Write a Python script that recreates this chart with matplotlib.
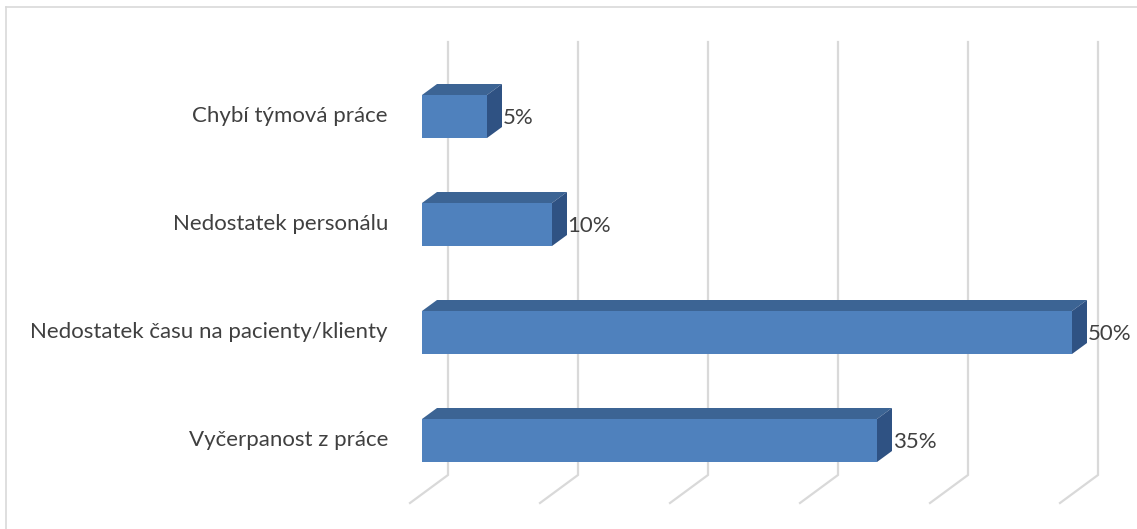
import matplotlib.pyplot as plt
from matplotlib.lines import Line2D
from matplotlib.patches import Polygon

W, H, DPI = 1137, 529, 100

categories = ["Vyčerpanost z práce", "Nedostatek času na pacienty/klienty",
              "Nedostatek personálu", "Chybí týmová práce"]
values = [35, 50, 10, 5]
grid_values = [0, 10, 20, 30, 40, 50]

FRONT = "#4F81BD"
TOP = "#3C6494"
SIDE = "#2F5283"
GRID = "#D9D9D9"
TEXT = "#404040"

# pixel scale of the plot: 13 px per percent, 108 px per category
PX_X, PX_Y = 13.0, 108.0
X0_PX, Y0_PX = 422.0, 88.5  # where value 0 / first category sit

# 3D depth offsets (data units)
BAR_DX, BAR_DY = 15 / PX_X, 11 / PX_Y
WALL_DX = 26 / PX_X
FLOOR_DX, FLOOR_DY = 38 / PX_X, 28 / PX_Y
BAR_H = 43 / PX_Y

plt.rcParams['font.family'] = ['Lato', 'DejaVu Sans']

fig = plt.figure(figsize=(W / DPI, H / DPI), dpi=DPI)
left, right, bottom, top = 400, 1120, 14, 499
ax = fig.add_axes([left / W, bottom / H, (right - left) / W, (top - bottom) / H])
ax.set_xlim((left - X0_PX) / PX_X, (right - X0_PX) / PX_X)
ax.set_ylim((bottom - Y0_PX) / PX_Y, (top - Y0_PX) / PX_Y)
ax.axis("off")

# back wall gridlines with the floor diagonal
grid_top = (487 - Y0_PX) / PX_Y
grid_bot = (54 - Y0_PX) / PX_Y
for v in grid_values:
    xb = v + WALL_DX
    ax.plot([xb, xb, xb - FLOOR_DX], [grid_top, grid_bot, grid_bot - FLOOR_DY],
            color=GRID, lw=1.6, zorder=1, solid_joinstyle="miter")

# 3D bars: front face, top face, side face
for i, (cat, v) in enumerate(zip(categories, values)):
    y0, y1 = i - BAR_H / 2, i + BAR_H / 2
    ax.add_patch(Polygon([(0, y0), (v, y0), (v, y1), (0, y1)],
                         closed=True, fc=FRONT, ec="none", zorder=3))
    ax.add_patch(Polygon([(0, y1), (v, y1), (v + BAR_DX, y1 + BAR_DY), (BAR_DX, y1 + BAR_DY)],
                         closed=True, fc=TOP, ec="none", zorder=3))
    ax.add_patch(Polygon([(v, y0), (v + BAR_DX, y0 + BAR_DY), (v + BAR_DX, y1 + BAR_DY), (v, y1)],
                         closed=True, fc=SIDE, ec="none", zorder=3))
    ax.text(v + BAR_DX + 0.05, i - 0.015, f"{v}%", ha="left", va="center",
            fontsize=16, color=TEXT, zorder=4)
    ax.text(-34 / PX_X, i, cat, ha="right", va="center", fontsize=16, color=TEXT)

# chart area border (top and left edges)
fig.add_artist(Line2D([6 / W, 6 / W], [0, 1 - 7 / H], transform=fig.transFigure,
                      color=GRID, lw=1.2))
fig.add_artist(Line2D([6 / W, 1], [1 - 7 / H, 1 - 7 / H], transform=fig.transFigure,
                      color=GRID, lw=1.2))

fig.savefig("out.png", dpi=DPI)
